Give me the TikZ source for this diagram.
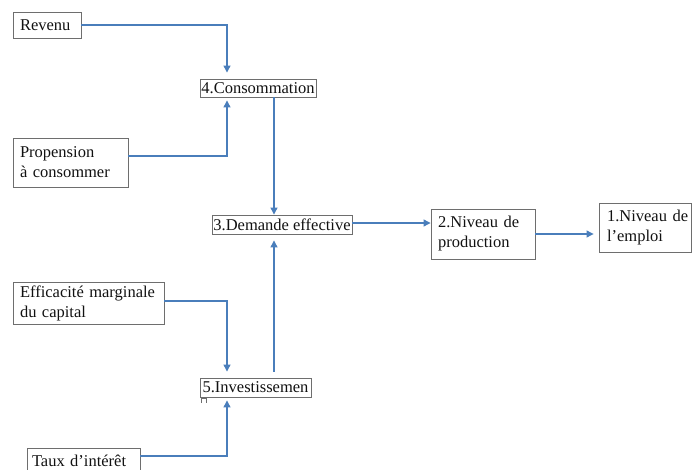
\documentclass[tikz,border=0pt]{standalone}
\usepackage{fontspec}
\setmainfont{Liberation Serif}
\usetikzlibrary{arrows.meta}
\definecolor{lineblue}{HTML}{4A7EBB}
\definecolor{boxgray}{HTML}{6E6E6E}
\definecolor{txt}{HTML}{111111}
\tikzset{
    box/.style={draw=boxgray, line width=0.9pt, text=txt, inner sep=0pt,
        font=\fontsize{16.5}{20}\selectfont},
    flow/.style={lineblue, line width=1.2pt,
        -{Triangle[length=7pt,width=7pt]}}
}
\begin{document}
\begin{tikzpicture}[x=1pt,y=-1pt]
    \clip (0,0) rectangle (692,470);

    % 左侧因素
    \node[box, minimum width=68, minimum height=26, text width=54, align=left] (rev) at (47,25) {Revenu};
    \node[box, minimum width=115, minimum height=49, text width=101, align=left] (prop) at (70.5,162.5) {Propension\\à consommer};
    \node[box, minimum width=151, minimum height=42, text width=137, align=left] (eff) at (88.5,303) {Efficacité marginale\\du capital};
    \node[box, minimum width=113, minimum height=26, text width=103, align=left] (taux) at (83.5,461) {Taux d’intérêt};

    % 中间
    \node[box, minimum width=116, minimum height=18] (cons) at (258,88) {4.Consommation};
    \node[box, minimum width=140, minimum height=19] (dem) at (282,224.5) {3.Demande effective};
    \node[box, minimum width=111, minimum height=19] (inv) at (255.5,387.5) {5.Investissemen};
    \draw[boxgray, line width=0.5pt] (201,403) -- (201,398) -- (206,398) -- (206,403);

    % 右侧
    \node[box, minimum width=104, minimum height=50, text width=90, align=left] (prod) at (483,234) {2.Niveau de\\production};
    \node[box, minimum width=92, minimum height=49, text width=76, align=left] (emp) at (645,227.5) {\mbox{1.Niveau de}\\l’emploi};

    \coordinate (lane) at (227,0);
    \coordinate (col) at (274,0);

    % 箭头
    \draw[flow, shorten >=6pt] (rev.east) -| (cons.north -| lane);
    \draw[flow, shorten >=3pt] ([yshift=6.5pt]prop.east) -| (cons.south -| lane);
    \draw[flow] (cons.south -| col) -- (dem.north -| col);
    \draw[flow, shorten <=6pt, shorten >=6pt] (inv.north -| col) -- (dem.south -| col);
    \draw[flow, shorten >=6pt] ([yshift=2pt]eff.east) -| (inv.north -| lane);
    \draw[flow, shorten >=3pt] ([yshift=5pt]taux.east) -| (inv.south -| lane);
    \draw[flow] ([yshift=1.5pt]dem.east) -- ([yshift=1.5pt]dem.east -| prod.west);
    \draw[flow, shorten >=5pt] (prod.east) -- (prod.east -| emp.west);
\end{tikzpicture}
\end{document}
